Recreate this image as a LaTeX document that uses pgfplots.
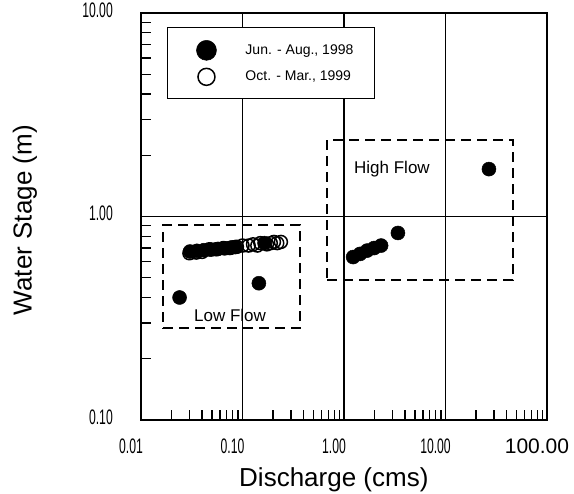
\documentclass[border=0pt]{standalone}
\usepackage{pgfplots}
\pgfplotsset{compat=1.18}
\usepackage{fontspec}
\setmainfont{Liberation Sans}
\newcommand{\nar}[1]{\scalebox{0.58}[1]{#1}}
\pgfplotsset{
  legfilled/.style={legend image code/.code={\path[draw=none] (0bp,0bp) -- (57bp,0bp); \draw[##1, mark size=10bp] plot coordinates {(20bp,0bp)};}},
  legopen/.style={legend image code/.code={\path[draw=none] (0bp,0bp) -- (57bp,0bp); \draw[##1, mark size=8.5bp] plot coordinates {(20bp,0bp)};}},
}
\begin{document}
\begin{tikzpicture}
\useasboundingbox (-141bp,-74bp) rectangle (433bp,420bp);
\begin{axis}[
  xmode=log, ymode=log,
  scale only axis, width=406bp, height=407bp,
  xmin=0.01, xmax=100, ymin=0.1, ymax=10,
  xtick={0.01,0.1,1,10,100},
  xticklabels={\nar{0.01},\nar{0.10},\nar{1.00},\nar{10.00},100.00},
  ytick={0.1,1,10},
  yticklabels={\nar{0.10},\nar{1.00},\nar{10.00}},
  minor xtick={0.02,0.03,0.04,0.05,0.06,0.07,0.08,0.09,0.2,0.3,0.4,0.5,0.6,0.7,0.8,0.9,2,3,4,5,6,7,8,9,20,30,40,50,60,70,80,90},
  minor ytick={0.2,0.3,0.4,0.5,0.6,0.7,0.8,0.9,2,3,4,5,6,7,8,9},
  tick pos=left, tick align=inside,
  major tick length=0pt, minor tick length=10bp,
  minor tick style={line width=1.3bp, black},
  grid=major, major grid style={black, line width=1.8bp},
  axis line style={line width=1.8bp},
  /pgf/number format/assume math mode=true,
  xticklabel style={anchor=center, yshift=-26bp, xshift=-10bp, font=\fontsize{21bp}{24bp}\selectfont},
  yticklabel style={anchor=east, inner sep=0pt, xshift=-28bp, yshift=3bp, font=\fontsize{21bp}{24bp}\selectfont},
  xlabel={Discharge (cms)},
  xlabel style={at={(rel axis cs:0.475,-0.147)}, anchor=center, font=\fontsize{26bp}{30bp}\selectfont},
  ylabel={Water Stage (m)},
  ylabel style={at={(rel axis cs:-0.286,0.491)}, anchor=center, font=\fontsize{26bp}{30bp}\selectfont},
  legend style={at={(rel axis cs:0.064,0.966)}, anchor=north west, draw=black, line width=1bp,
    inner xsep=19bp, inner ysep=13bp, row sep=8bp, font=\fontsize{14bp}{16bp}\selectfont},
  legend cell align=left,
]
% Jun.-Aug., 1998 (filled)
\addplot[only marks, mark=*, mark size=7bp, black, mark options={fill=black, line width=0.5bp}, legfilled]
coordinates {
(0.024,0.40) (0.145,0.47)
(0.0304,0.673) (0.0356,0.678) (0.0417,0.683) (0.0489,0.688) (0.0573,0.693) (0.0671,0.698) (0.0787,0.705) (0.085,0.708)
(0.165,0.74)
(1.23,0.632) (1.44,0.655) (1.69,0.68) (1.98,0.70) (2.32,0.72)
(3.40,0.83) (26.8,1.71)
};
\addlegendentry{Jun. - Aug., 1998}
% Oct.-Mar., 1999 (open)
\addplot[only marks, mark=o, mark size=6.5bp, black, mark options={line width=1.5bp}, legopen]
coordinates {
(0.030,0.66) (0.035,0.665) (0.040,0.67) (0.047,0.69) (0.055,0.69) (0.065,0.70) (0.075,0.70) (0.088,0.71)
(0.10,0.72) (0.115,0.72) (0.127,0.73) (0.14,0.72) (0.15,0.74) (0.174,0.73) (0.19,0.74) (0.204,0.75) (0.22,0.74) (0.239,0.75)
};
\addlegendentry{Oct. - Mar., 1999}
% dashed regions
\addplot[forget plot, black, line width=1.8bp, dash pattern=on 10bp off 6bp]
coordinates {(0.0165,0.283) (0.369,0.283) (0.369,0.908) (0.0165,0.908) (0.0165,0.283)};
\addplot[forget plot, black, line width=1.8bp, dash pattern=on 10bp off 6bp]
coordinates {(0.681,0.488) (46.2,0.488) (46.2,2.38) (0.681,2.38) (0.681,0.488)};
\node[font=\fontsize{17bp}{20bp}\selectfont] at (axis cs:2.97,1.71) {High Flow};
\node[font=\fontsize{17bp}{20bp}\selectfont] at (axis cs:0.0754,0.328) {Low Flow};
\end{axis}
\end{tikzpicture}
\end{document}
